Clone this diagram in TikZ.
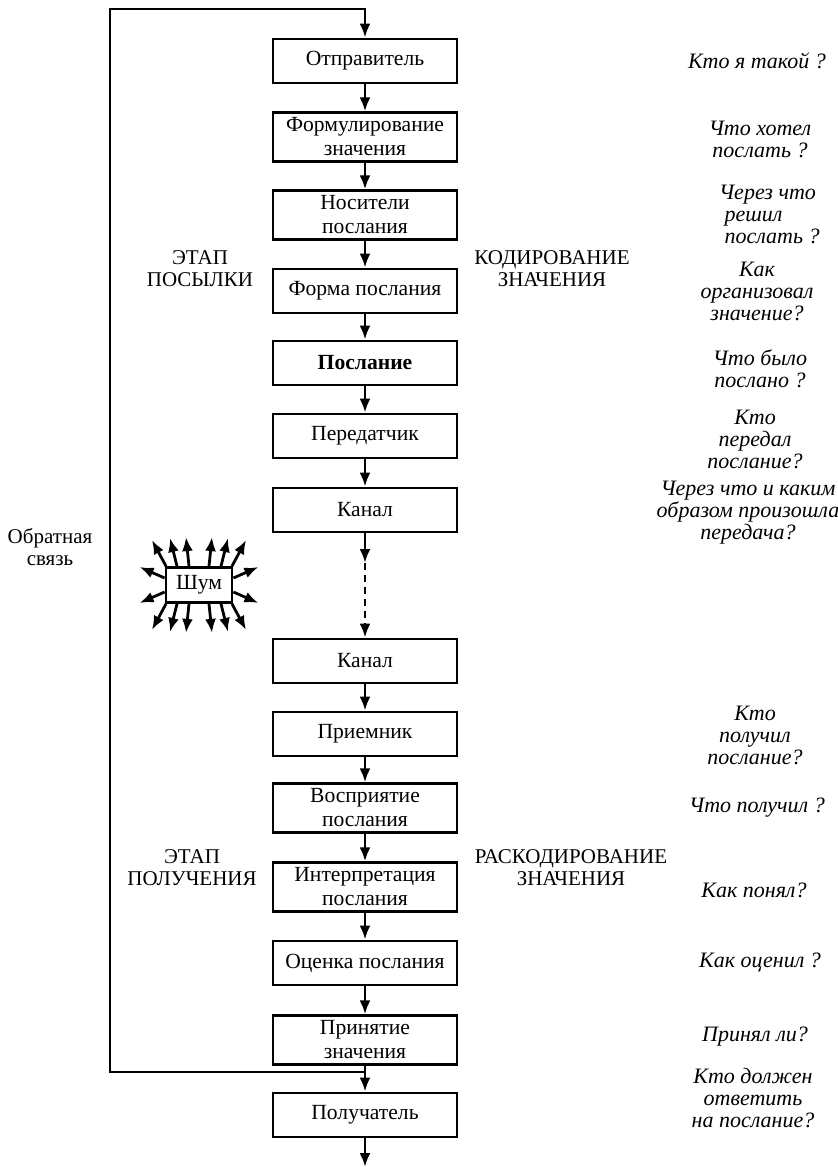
\documentclass[tikz,border=0pt]{standalone}
\usepackage{fontspec}
\setmainfont{Liberation Serif}
\usetikzlibrary{arrows.meta,calc}
\begin{document}
\begin{tikzpicture}[x=0.5pt, y=-0.5pt, >={Latex[length=7pt,width=5.5pt]},
    block/.style={draw, line width=1.4pt, minimum width=92pt, minimum height=22pt, inner ysep=2.5pt, align=center, font=\fontsize{10.8}{12}\selectfont},
    stage/.style={align=center, font=\fontsize{10.5}{11}\selectfont},
    ask/.style={align=center, font=\fontsize{11}{11}\selectfont\itshape},
    link/.style={->, line width=1.4pt}]
\useasboundingbox (0,0) rectangle (838,1167);
  \node[block] (sender) at (365,61) {Отправитель};
  \node[block] (formul) at (365,137) {Формулирование\\значения};
  \node[block] (media) at (365,215) {Носители\\послания};
  \node[block] (form) at (365,291) {Форма послания};
  \node[block, font=\fontsize{10.8}{12}\selectfont\bfseries] (msg) at (365,363) {Послание};
  \node[block] (trans) at (365,436) {Передатчик};
  \node[block] (chan) at (365,510) {Канал};
  \node[block] (chanr) at (365,661) {Канал};
  \node[block] (recv) at (365,734) {Приемник};
  \node[block] (percep) at (365,808) {Восприятие\\послания};
  \node[block] (interp) at (365,887) {Интерпретация\\послания};
  \node[block] (eval) at (365,963) {Оценка послания};
  \node[block] (accept) at (365,1040) {Принятие\\значения};
  \node[block] (dest) at (365,1115) {Получатель};
  \node[draw, line width=1.4pt, minimum width=33pt, minimum height=17.5pt, inner sep=1pt, font=\fontsize{10.8}{12}\selectfont] (noise) at (199,585) {Шум};

  \node[stage] (sendst) at (200,269) {ЭТАП\\ПОСЫЛКИ};
  \node[stage] (coding) at (552,269) {КОДИРОВАНИЕ\\ЗНАЧЕНИЯ};
  \node[stage] (recvst) at (192,868) {ЭТАП\\ПОЛУЧЕНИЯ};
  \node[stage] (decoding) at (571,868) {РАСКОДИРОВАНИЕ\\ЗНАЧЕНИЯ};
  \node[stage] (fbtext) at (50,547) {Обратная\\связь};

  \node[ask] (q1) at (757,61) {Кто я такой ?};
  \node[ask] (q2) at (760,139) {Что хотел\\послать ?};
  \node[ask, align=left, anchor=west] (q3) at (712,214) {Через что\\\ решил\\\ послать ?};
  \node[ask] (q4) at (757,291) {Как\\организовал\\значение?};
  \node[ask] (q5) at (760,369) {Что было\\послано ?};
  \node[ask] (q6) at (755,439) {Кто\\передал\\послание?};
  \node[ask] (q7) at (748,513) {Через что и каким\\образом произошла\\передача?};
  \node[ask] (q8) at (755,735) {Кто\\получил\\послание?};
  \node[ask] (q9) at (757,808) {Что получил ?};
  \node[ask] (q10) at (754,890) {Как понял?};
  \node[ask] (q11) at (760,962) {Как оценил ?};
  \node[ask] (q12) at (755,1037) {Принял ли?};
  \node[ask] (q13) at (753,1098) {Кто должен\\ответить\\на послание?};

  \draw[link] (sender) -- (formul);
  \draw[link] (formul) -- (media);
  \draw[link] (media) -- (form);
  \draw[link] (form) -- (msg);
  \draw[link] (msg) -- (trans);
  \draw[link] (trans) -- (chan);
\coordinate (gap) at (365,563);
  \draw[link] (chan) -- (gap);
  \draw[link, dash pattern=on 3.5pt off 2.5pt] (gap) -- (chanr);
  \draw[link] (chanr) -- (recv);
  \draw[link] (recv) -- (percep);
  \draw[link] (percep) -- (interp);
  \draw[link] (interp) -- (eval);
  \draw[link] (eval) -- (accept);
  \draw[link] (accept) -- (dest);
\coordinate (out) at (365,1167);
  \draw[link] (dest) -- (out);
\coordinate (fb) at (365,1072);
\coordinate (fbcorner) at (110,9);
  \draw[link] (fb) -| (fbcorner) -| (sender);

  \draw[link] ($(noise.north)+(-33,0)$) -- ++(-14,-26);
  \draw[link] ($(noise.north)+(-22,0)$) -- ++(-7,-28);
  \draw[link] ($(noise.north)+(-10,0)$) -- ++(-3,-29);
  \draw[link] ($(noise.north)+(10,0)$) -- ++(3,-29);
  \draw[link] ($(noise.north)+(22,0)$) -- ++(7,-28);
  \draw[link] ($(noise.north)+(33,0)$) -- ++(14,-26);
  \draw[link] ($(noise.south)+(-33,0)$) -- ++(-14,26);
  \draw[link] ($(noise.south)+(-22,0)$) -- ++(-7,28);
  \draw[link] ($(noise.south)+(-10,0)$) -- ++(-3,29);
  \draw[link] ($(noise.south)+(10,0)$) -- ++(3,29);
  \draw[link] ($(noise.south)+(22,0)$) -- ++(7,28);
  \draw[link] ($(noise.south)+(33,0)$) -- ++(14,26);
  \draw[link] ($(noise.west)+(0,-7)$) -- ++(-25,-11);
  \draw[link] ($(noise.west)+(0,7)$) -- ++(-25,11);
  \draw[link] ($(noise.east)+(0,-7)$) -- ++(25,-11);
  \draw[link] ($(noise.east)+(0,7)$) -- ++(25,11);
\end{tikzpicture}
\end{document}
